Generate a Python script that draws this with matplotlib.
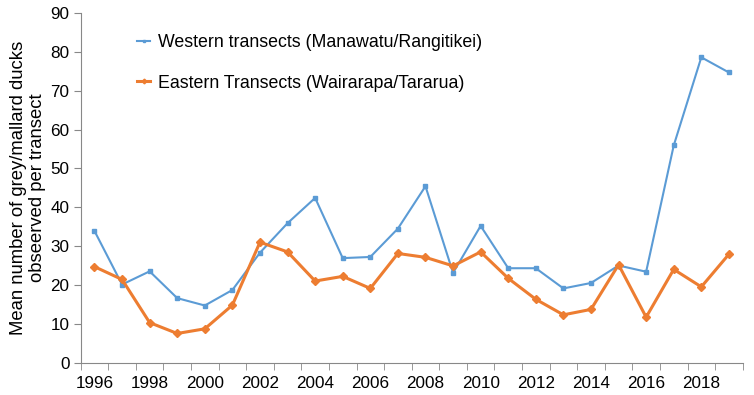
import numpy as np
import matplotlib.pyplot as plt

years = list(range(1996, 2020))

# mean ducks per transect
western = [33.9, 20.1, 23.5, 16.6, 14.7, 18.7, 28.3, 35.9, 42.4, 26.9, 27.2, 34.5,
           45.4, 23.1, 35.2, 24.3, 24.3, 19.1, 20.5, 25.0, 23.4, 55.9, 78.6, 74.7]
eastern = [24.7, 21.4, 10.3, 7.5, 8.7, 14.8, 31.0, 28.5, 21.0, 22.2, 19.1, 28.1,
           27.1, 24.9, 28.5, 21.7, 16.3, 12.3, 13.7, 25.2, 11.7, 24.0, 19.5, 27.9]

labels = ['Western transects (Manawatu/Rangitikei)', 'Eastern Transects (Wairarapa/Tararua)']

plt.rcParams['font.family'] = ['Liberation Sans', 'DejaVu Sans']

fig = plt.figure(figsize=(7.54, 3.95), dpi=100)
ax = fig.add_axes([0.107, 0.082, 0.878, 0.885])

ax.plot(years, western, color='#5B9BD5', lw=1.5, marker='s', ms=3.5, label=labels[0])
ax.plot(years, eastern, color='#ED7D31', lw=2.2, marker='D', ms=4, label=labels[1])

ax.set_xlim(years[0] - 0.5, years[-1] + 0.5)
ax.set_ylim(0, 90)
ax.set_yticks(np.arange(0, 91, 10))

# category style x axis: ticks between years, labels every second year
ax.set_xticks(years[::2])
ax.set_xticks(np.arange(years[0] - 0.5, years[-1] + 1), minor=True)
ax.tick_params(axis='x', which='major', length=0, pad=10, labelsize=12.3)
ax.tick_params(axis='x', which='minor', length=5, color='#888888')
ax.tick_params(axis='y', length=5, color='#888888', labelsize=12.3, pad=3)

for s in ['top', 'right']:
    ax.spines[s].set_visible(False)
for s in ['left', 'bottom']:
    ax.spines[s].set_color('#888888')

ax.set_ylabel('Mean number of grey/mallard ducks\nobseerved per transect', fontsize=13.3, labelpad=3)

ax.legend(loc='upper left', bbox_to_anchor=(0.085, 0.94), frameon=False, fontsize=12.8,
          handlelength=0.75, handletextpad=0.45, labelspacing=1.33, borderpad=0, borderaxespad=0,
          markerscale=0.6)

fig.savefig('out.png', dpi=100)
